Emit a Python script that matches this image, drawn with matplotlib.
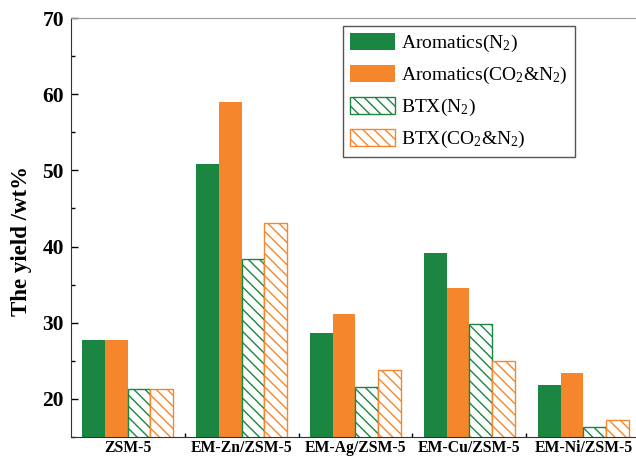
import numpy as np
import matplotlib.pyplot as plt
from matplotlib.ticker import MultipleLocator, FixedLocator

plt.rcParams['font.family'] = 'Liberation Serif'
plt.rcParams['mathtext.fontset'] = 'custom'
plt.rcParams['mathtext.rm'] = 'Liberation Serif'
plt.rcParams['mathtext.it'] = 'Liberation Serif:italic'
plt.rcParams['mathtext.bf'] = 'Liberation Serif:bold'
plt.rcParams['hatch.linewidth'] = 1.0

# data
catalysts = ['ZSM-5', 'EM-Zn/ZSM-5', 'EM-Ag/ZSM-5', 'EM-Cu/ZSM-5', 'EM-Ni/ZSM-5']
arom_n2 = [27.7, 50.9, 28.7, 39.1, 21.8]
arom_co2 = [27.7, 59.0, 31.1, 34.5, 23.4]
btx_n2 = [21.3, 38.4, 21.5, 29.8, 16.3]
btx_co2 = [21.3, 43.1, 23.8, 25.0, 17.2]

green = '#1b8641'
orange = '#f5862b'

fig = plt.figure(figsize=(6.36, 4.58), dpi=100)
ax = fig.add_axes([71/636, 1-437/458, 569/636, 419/458])

x = np.arange(len(catalysts))
w = 0.2
ax.bar(x - 1.5*w, arom_n2, w, color=green, label=r'Aromatics(N$_2$)', zorder=2)
ax.bar(x - 0.5*w, arom_co2, w, color=orange, label=r'Aromatics(CO$_2$&N$_2$)', zorder=2)
ax.bar(x + 0.5*w, btx_n2, w, facecolor='white', edgecolor=green, hatch='\\\\\\',
       linewidth=1.0, label=r'BTX(N$_2$)', zorder=2)
ax.bar(x + 1.5*w, btx_co2, w, facecolor='white', edgecolor=orange, hatch='\\\\\\',
       linewidth=1.0, label=r'BTX(CO$_2$&N$_2$)', zorder=2)

ax.set_xlim(-0.496, 4.496)
ax.set_ylim(15, 70)
ax.yaxis.set_major_locator(MultipleLocator(10))
ax.yaxis.set_minor_locator(MultipleLocator(5))
ax.set_xticks(x)
ax.set_xticklabels(catalysts, fontweight='bold', fontsize=11.3)
ax.xaxis.set_minor_locator(FixedLocator(x[:-1] + 0.5))
ax.tick_params(axis='x', which='major', length=0, pad=2.5)
ax.tick_params(axis='x', which='minor', direction='in', length=3, width=1)
ax.tick_params(axis='y', which='major', direction='in', length=5, width=1, labelsize=15.5, pad=5)
ax.tick_params(axis='y', which='minor', direction='in', length=3, width=1)
for lab in ax.get_yticklabels():
    lab.set_fontweight('bold')

ax.set_ylabel('The yield /wt%', fontsize=16.5, fontweight='bold')
ax.yaxis.set_label_coords(-0.068, 0.468)

ax.spines['top'].set_color('#9a9a9a')
ax.spines['left'].set_color('#333333')
ax.spines['bottom'].set_color('#333333')

leg = ax.legend(loc='upper left', bbox_to_anchor=(0.478, 0.981), borderaxespad=0,
                fontsize=14, handlelength=2.35, handleheight=0.95, labelspacing=0.56,
                handletextpad=0.3, borderpad=0.35, fancybox=False, framealpha=1)
leg.get_frame().set_edgecolor('#555555')
leg.get_frame().set_linewidth(1.0)

plt.savefig('out.png', dpi=100)
